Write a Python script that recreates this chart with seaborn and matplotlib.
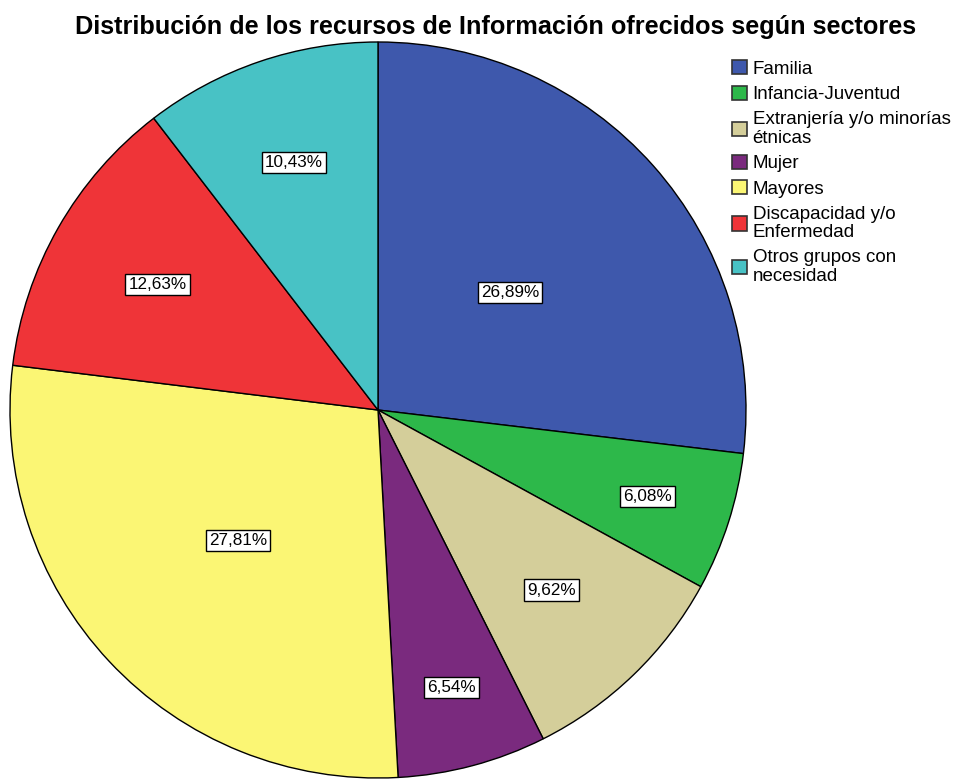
import matplotlib
matplotlib.use("Agg")
import matplotlib.pyplot as plt
import seaborn as sns
import numpy as np

categories = ["Familia", "Infancia-Juventud", "Extranjería y/o minorías\nétnicas", "Mujer",
              "Mayores", "Discapacidad y/o\nEnfermedad", "Otros grupos con\nnecesidad"]
values = [26.89, 6.08, 9.62, 6.54, 27.81, 12.63, 10.43]
labels = ["26,89%", "6,08%", "9,62%", "6,54%", "27,81%", "12,63%", "10,43%"]
colors = ["#3E58AC", "#2DB84A", "#D4CE9A", "#7A2A7E", "#FBF674", "#EF3438", "#48C2C5"]
label_dist = [0.48, 0.77, 0.68, 0.78, 0.52, 0.69, 0.71]

sns.set_style("white")
plt.rcParams['font.family'] = ['Liberation Sans', 'DejaVu Sans']
plt.rcParams['text.color'] = 'black'

W, H = 962, 780
fig = plt.figure(figsize=(W / 100, H / 100), dpi=100)
cx, cy, r = 378, 410, 368
ax = fig.add_axes([(cx - r) / W, (H - cy - r) / H, 2 * r / W, 2 * r / H])

wedges, _ = ax.pie(values, colors=colors, startangle=90, counterclock=False,
                   wedgeprops=dict(edgecolor="black", linewidth=1.0))
ax.set_aspect("equal")
ax.set_xlim(-1, 1)
ax.set_ylim(-1, 1)

for w, lab, d in zip(wedges, labels, label_dist):
    ang = np.deg2rad((w.theta1 + w.theta2) / 2)
    ax.text(d * np.cos(ang), d * np.sin(ang), lab, ha="center", va="center", fontsize=12.3,
            color="black",
            bbox=dict(boxstyle="square,pad=0.18", facecolor="white", edgecolor="black", linewidth=1.0))

fig.text(496 / W, 1 - 27 / H, "Distribución de los recursos de Información ofrecidos según sectores",
         ha="center", va="center", fontsize=18.2, fontweight="bold", color="black")

leg = fig.legend(wedges, categories, loc="upper left", bbox_to_anchor=(732 / W, 1 - 60 / H),
                 frameon=False, fontsize=13.5, handlelength=0.8, handleheight=0.8,
                 handletextpad=0.3, labelspacing=0.42, borderaxespad=0, borderpad=0)
for t in leg.get_texts():
    t.set_linespacing(1.12)
    t.set_color("black")
for h in leg.legend_handles:
    h.set_edgecolor("#333333")
    h.set_linewidth(1.2)

fig.savefig("out.png", dpi=100)
